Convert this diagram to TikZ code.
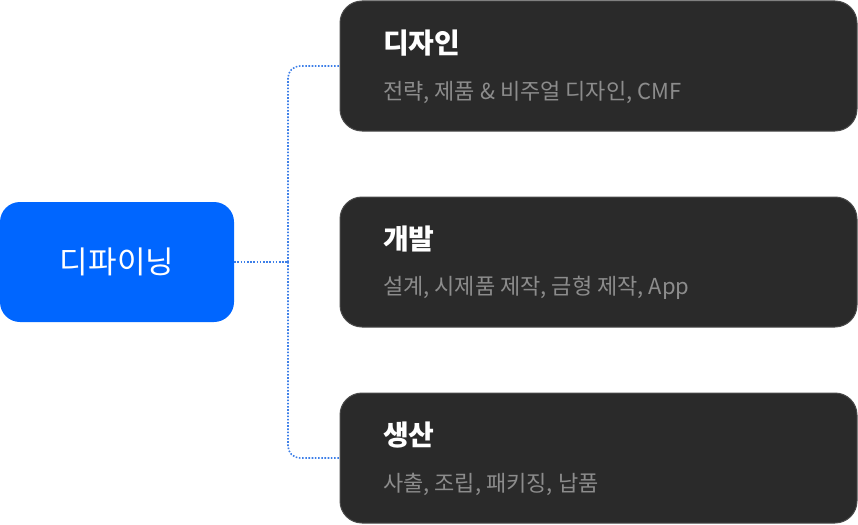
\documentclass[tikz,border=0pt]{standalone}
\usepackage{fontspec}
\setmainfont{Noto Sans CJK KR}
\definecolor{defblue}{HTML}{0066FF}
\definecolor{boxgray}{HTML}{2A2A2A}
\definecolor{boxline}{HTML}{4A4A4A}
\definecolor{subgray}{HTML}{8C8C8C}
\definecolor{dotblue}{HTML}{3D7FE8}
\begin{document}
\begin{tikzpicture}[x=1pt,y=-1pt,
	stage/.style={rectangle,rounded corners=22pt,fill=boxgray,draw=boxline,line width=1pt,minimum width=517pt,minimum height=130pt},
	title/.style={anchor=west,inner sep=0pt,text=white,font=\fontsize{28}{32}\selectfont\bfseries},
	sub/.style={anchor=west,inner sep=0pt,text=subgray,font=\fontsize{22}{26}\selectfont},
	link/.style={dotblue,line width=1.6pt,dash pattern=on 1.6pt off 1.6pt,rounded corners=12pt}]
		\useasboundingbox (0,0) rectangle (858,524);
		\path
		+(117,262)  node[rectangle,rounded corners=20pt,fill=defblue,minimum width=234pt,minimum height=120pt,text=white,font=\fontsize{31}{36}\selectfont]  (def) {디파이닝}
		+(598.5,66)  node[stage]  (des) {}
		+(598.5,262) node[stage]  (dev) {}
		+(598.5,458) node[stage]  (pro) {}
		+(383,43)   node[title]  (desT) {디자인}
		+(383,92)   node[sub]    (desS) {전략, 제품 \& 비주얼 디자인, CMF}
		+(383,239)  node[title]  (devT) {개발}
		+(383,288)  node[sub]    (devS) {설계, 시제품 제작, 금형 제작, App}
		+(383,435)  node[title]  (proT) {생산}
		+(383,484)  node[sub]    (proS) {사출, 조립, 패키징, 납품}
		;
		\coordinate (jn) at (288,262);
		\draw[link] (def.east)--(jn);
		\draw[link] (jn)|-(des.west);
		\draw[link] (jn)|-(pro.west);
		\end{tikzpicture}
\end{document}
